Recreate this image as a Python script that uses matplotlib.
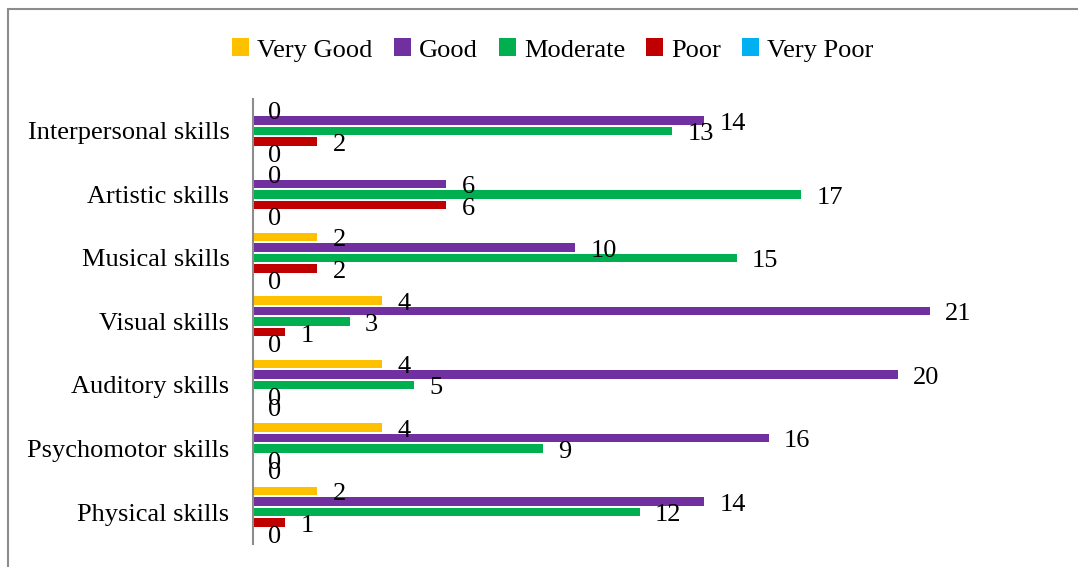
import numpy as np
import matplotlib
matplotlib.use('Agg')
import matplotlib.pyplot as plt
from matplotlib.patches import Rectangle

plt.rcParams['font.family'] = ['Liberation Serif', 'DejaVu Serif']

# --- 数据 (从上到下) ---
skills = ['Interpersonal skills', 'Artistic skills', 'Musical skills', 'Visual skills',
          'Auditory skills', 'Psychomotor skills', 'Physical skills']
very_good = [0, 0, 2, 4, 4, 4, 2]
good = [14, 6, 10, 21, 20, 16, 14]
moderate = [13, 17, 15, 3, 5, 9, 12]
poor = [2, 6, 2, 1, 0, 0, 1]
very_poor = [0, 0, 0, 0, 0, 0, 0]

series_names = ['Very Good', 'Good', 'Moderate', 'Poor', 'Very Poor']
series_vals = [very_good, good, moderate, poor, very_poor]
colors = ['#FFC000', '#7030A0', '#00B050', '#C00000', '#00B0F0']

FS = 19
W, H = 1078, 567
fig = plt.figure(figsize=(W / 100, H / 100), dpi=100)
ax = fig.add_axes([253 / W, 1 - 543.75 / H, (1059 - 253) / W, (543.75 - 99.25) / H])

y = np.arange(len(skills))
pitch = 1 / 6
bar_h = 0.135
for k, (name, vals, c) in enumerate(zip(series_names, series_vals, colors)):
    pos = y + (k - 2) * pitch
    ax.barh(pos, vals, height=bar_h, color=c, label=name)
    # 数值标签, 放在柱子末端右侧, 略微下移
    for v, yy in zip(vals, pos):
        ax.annotate(f'{v}', (v, yy), xytext=(11, -2.5), textcoords='offset points',
                    ha='left', va='center', fontsize=FS, color='black')

ax.set_xlim(0, 25)
ax.set_ylim(-0.5, len(skills) - 0.5)
ax.invert_yaxis()
ax.set_yticks(y)
ax.set_yticklabels(skills, fontsize=FS)
ax.set_xticks([])
ax.tick_params(axis='y', length=0, pad=17)
for s in ['top', 'right', 'bottom']:
    ax.spines[s].set_visible(False)
ax.spines['left'].set_color('#8c8c8c')
ax.spines['left'].set_linewidth(1.5)

leg = fig.legend(loc='center', bbox_to_anchor=(553 / W, 1 - 50 / H), ncol=5, frameon=False,
                 fontsize=FS, handlelength=0.65, handleheight=0.65, handletextpad=0.3,
                 columnspacing=0.8)

# 外框
fig.patches.append(Rectangle((8 / W, -0.05), 1.1, 1 - 9 / H + 0.05, transform=fig.transFigure,
                             fill=False, edgecolor='#8c8c8c', linewidth=1.5))

fig.savefig('out.png', dpi=100)
